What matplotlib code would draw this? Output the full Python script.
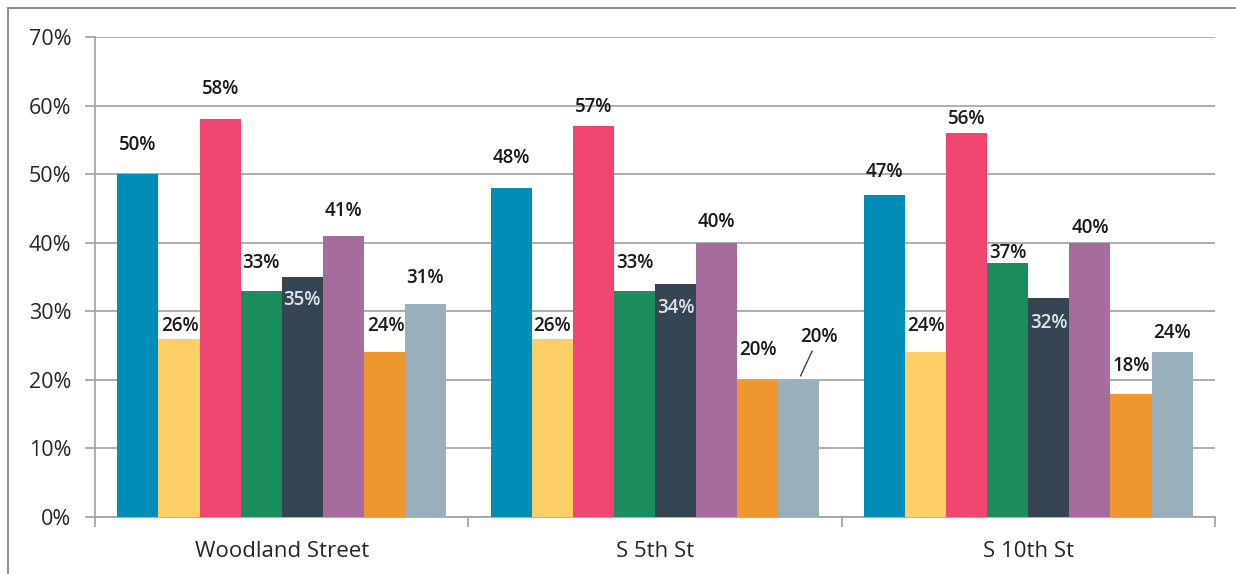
import matplotlib
matplotlib.use("Agg")
import matplotlib.pyplot as plt
import numpy as np
from matplotlib.lines import Line2D
from matplotlib.ticker import PercentFormatter

streets = ["Woodland Street", "S 5th St", "S 10th St"]

# one list per street, eight measures each (percent)
woodland = [50, 26, 58, 33, 35, 41, 24, 31]
s_5th = [48, 26, 57, 33, 34, 40, 20, 20]
s_10th = [47, 24, 56, 37, 32, 40, 18, 24]

y_ticks = [0, 10, 20, 30, 40, 50, 60, 70]

colors = ["#008db8", "#fecf66", "#ef4670", "#1a8c5d",
          "#354551", "#a66d9c", "#f0962e", "#9aafbc"]

# vertical label offsets in pixels above the bar top (negative = inside)
label_dy = [
    [29, 13, 30, 28, -23, 25, 26, 26],
    [30, 13, 19, 28, -24, 21, 30, 43],
    [23, 26, 14, 10, -25, 15, 28, 19],
]
label_dx = [
    [0, 1, 0, 0, 0, 0, 2, 0],
    [0, 0, 0, 0, 0, 0, 0, 20],
    [0, 0, 0, 0, 0, 0, 0, 0],
]

plt.rcParams["font.family"] = ["Open Sans", "DejaVu Sans"]

fig = plt.figure(figsize=(12.36, 5.74), dpi=100)
ax = fig.add_axes([95 / 1236, 1 - 517 / 574, 1120 / 1236, 480 / 574])

data = np.array([woodland, s_5th, s_10th])
n_series = data.shape[1]
width = 0.11
x = np.arange(len(streets))

for j in range(n_series):
    pos = x + (j - (n_series - 1) / 2) * width
    ax.bar(pos, data[:, j], width=width, color=colors[j], zorder=3)
    for i in range(len(streets)):
        dy = label_dy[i][j]
        inside = dy < 0
        kw = {}
        if label_dx[i][j] > 10:
            kw["arrowprops"] = dict(arrowstyle="-", color="#333333", lw=0.9,
                                    shrinkA=1, shrinkB=3)
        ax.annotate(f"{data[i, j]:.0f}%", xy=(pos[i], data[i, j]),
                    xytext=(label_dx[i][j], dy), textcoords="offset pixels",
                    ha="center", va="center", fontsize=13.5,
                    fontweight="semibold",
                    color="#dfe4ea" if inside else "#1a1a1a",
                    zorder=5, **kw)

ax.set_xlim(-0.5, len(streets) - 0.5)
ax.set_ylim(0, 70)
ax.set_yticks(y_ticks)
ax.yaxis.set_major_formatter(PercentFormatter(decimals=0))
ax.grid(axis="y", color="#a0a0a0", linewidth=1.2, zorder=0)

ax.set_xticks(x)
ax.set_xticklabels(streets)
ax.set_xticks(np.arange(len(streets) + 1) - 0.5, minor=True)
ax.tick_params(axis="x", which="major", length=0, pad=17, labelsize=16,
               labelcolor="#262626")
ax.tick_params(axis="x", which="minor", length=7, width=1.2, color="#a0a0a0")
ax.tick_params(axis="y", length=7, width=1.2, color="#a0a0a0", pad=10,
               labelsize=15.5, labelcolor="#262626")

for side in ("top", "right"):
    ax.spines[side].set_visible(False)
for side in ("left", "bottom"):
    ax.spines[side].set_color("#a0a0a0")
    ax.spines[side].set_linewidth(1.2)

# chart-area frame, running off the right and bottom edges
frame = dict(color="#8c8c8c", linewidth=1.4, transform=fig.transFigure)
fig.add_artist(Line2D([8 / 1236, 1], [1 - 8 / 574, 1 - 8 / 574], **frame))
fig.add_artist(Line2D([8 / 1236, 8 / 1236], [0, 1 - 8 / 574], **frame))

fig.savefig("out.png", dpi=100)
